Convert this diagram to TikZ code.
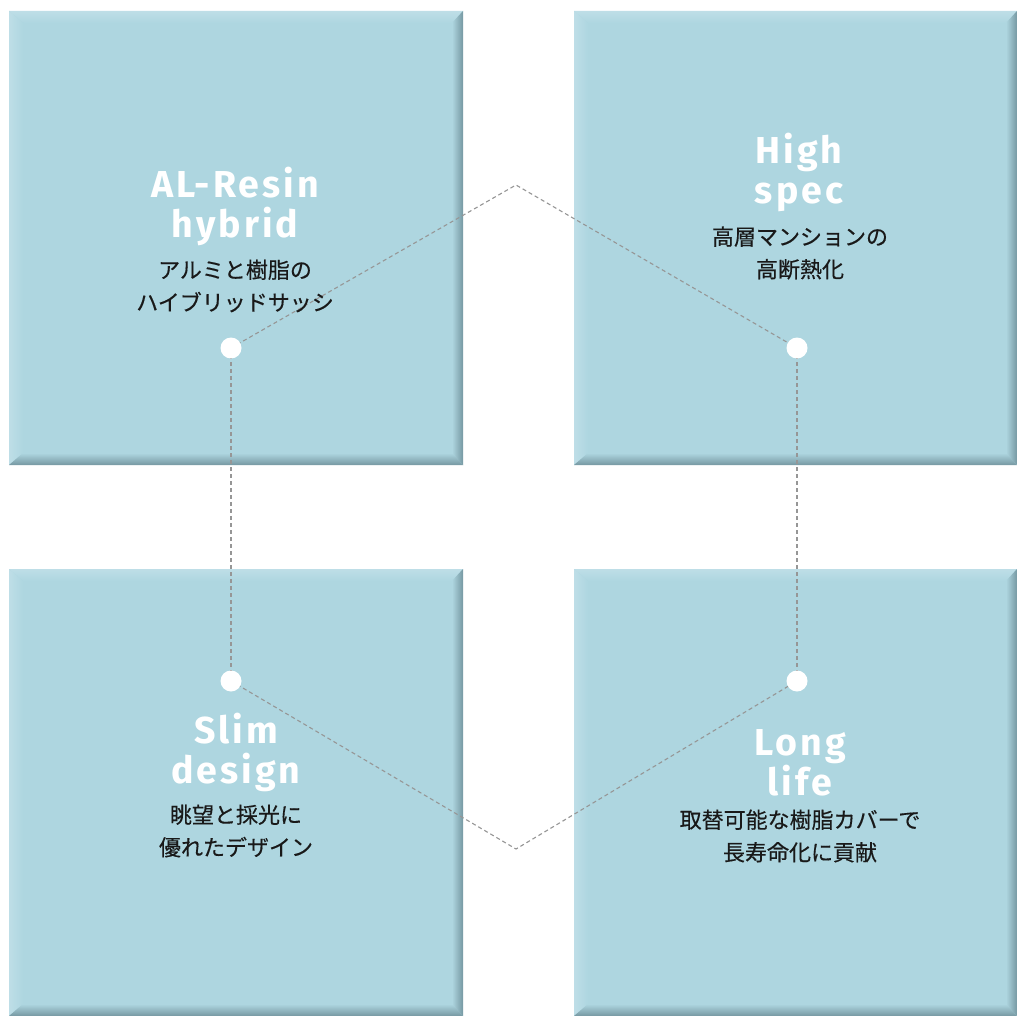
\documentclass[tikz,border=0pt]{standalone}
\usepackage{fontspec}
\newfontfamily\titlefont[LetterSpace=8]{Fira Sans}
\newfontfamily\jpfont[FakeBold=0.4]{Noto Sans CJK JP}
\definecolor{boxfill}{RGB}{174,214,224}
\definecolor{boxlight}{RGB}{190,222,231}
\definecolor{boxdark}{RGB}{118,152,162}
\definecolor{dashgray}{RGB}{150,150,150}
\definecolor{jptext}{RGB}{25,25,25}
\tikzset{
  titletext/.style={text=white, align=center, font=\titlefont\bfseries\fontsize{37.5}{40}\selectfont, inner sep=0pt},
  jptextstyle/.style={text=jptext, align=center, font=\jpfont\fontsize{22}{32.5}\selectfont, inner sep=0pt},
  dot/.style={circle, fill=white, minimum size=21pt, inner sep=0pt},
  conn/.style={draw=dashgray, line width=1.1pt, dash pattern=on 4pt off 3pt},
}
\newcommand{\bevelbox}[5]{% name, x1, y1, x2, y2
  \fill[boxfill] (#2,#3) rectangle (#4,#5);
  \shade[top color=boxlight, bottom color=boxfill] (#2,#3) -- (#4,#3) -- (#4-11,#3+12) -- (#2+14,#3+12) -- cycle;
  \shade[left color=boxlight, right color=boxfill] (#2,#3) -- (#2+14,#3+12) -- (#2+14,#5-12) -- (#2,#5) -- cycle;
  \shade[top color=boxfill, bottom color=boxdark] (#2,#5) -- (#2+14,#5-12) -- (#4-11,#5-12) -- (#4,#5) -- cycle;
  \shade[left color=boxfill, right color=boxdark] (#4,#3) -- (#4-11,#3+12) -- (#4-11,#5-12) -- (#4,#5) -- cycle;
  \path (#2,#3) rectangle (#4,#5) coordinate (#1);
}
\begin{document}
\begin{tikzpicture}[x=1pt,y=-1pt]
\useasboundingbox (0,0) rectangle (1017,1016);
\fill[white] (0,0) rectangle (1017,1016);
\bevelbox{b1}{9}{11}{463}{465}
\bevelbox{b2}{574}{11}{1017}{465}
\bevelbox{b3}{9}{569}{463}{1016}
\bevelbox{b4}{574}{569}{1017}{1016}
% connector points
\coordinate (p1) at (231,348);
\coordinate (p2) at (797,348);
\coordinate (p3) at (231,681);
\coordinate (p4) at (797,681);
\coordinate (top) at (516,185);
\coordinate (bot) at (516,849);
\draw[conn] (p1) -- (top) -- (p2);
\draw[conn] (p1) -- (p3);
\draw[conn] (p2) -- (p4);
\draw[conn] (p3) -- (bot) -- (p4);
\node[dot] (d1) at (p1) {};
\node[dot] (d2) at (p2) {};
\node[dot] (d3) at (p3) {};
\node[dot] (d4) at (p4) {};
% texts
\node[titletext] (t1) at (235,206) {AL-Resin\\hybrid};
\node[jptextstyle] (j1) at (235,286) {アルミと樹脂の\\ハイブリッドサッシ};
\node[titletext] (t2) at (799,172) {High\\spec};
\node[jptextstyle] (j2) at (800,253) {高層マンションの\\高断熱化};
\node[titletext] (t3) at (236,752) {Slim\\design};
\node[jptextstyle] (j3) at (236,831) {眺望と採光に\\優れたデザイン};
\node[titletext] (t4) at (800,763) {Long\\life};
\node[jptextstyle] (j4) at (800,836) {取替可能な樹脂カバーで\\長寿命化に貢献};
\end{tikzpicture}
\end{document}
